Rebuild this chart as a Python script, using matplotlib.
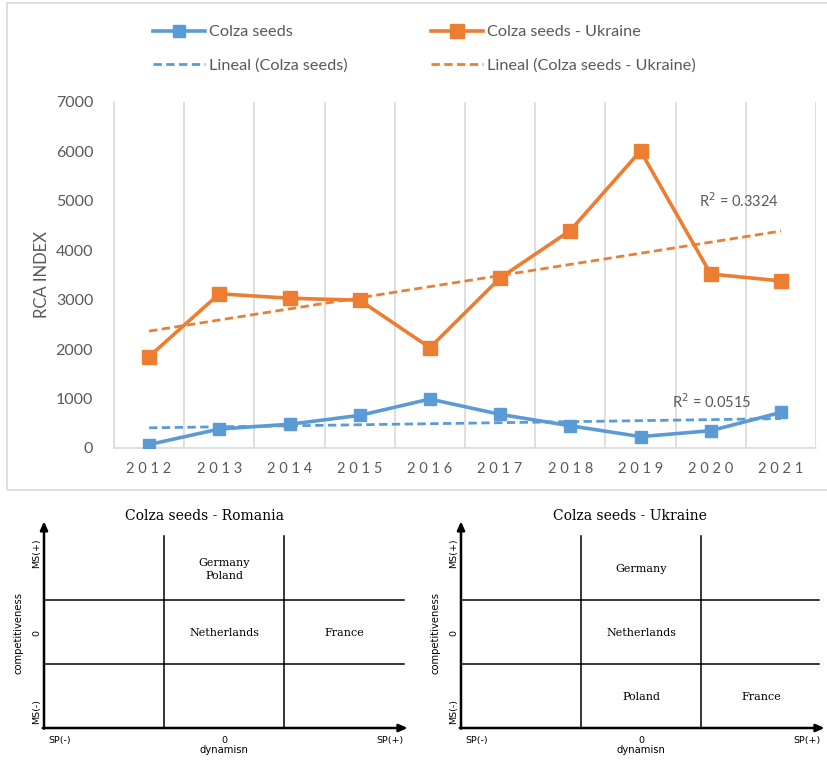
import matplotlib
matplotlib.use("Agg")
import matplotlib.pyplot as plt
from matplotlib import font_manager
from matplotlib.patches import Rectangle
import numpy as np

# ---------------- data ----------------
years = ["2012", "2013", "2014", "2015", "2016", "2017", "2018", "2019", "2020", "2021"]
colza_romania = [70, 384, 480, 660, 990, 680, 450, 230, 350, 720]
colza_ukraine = [1850, 3120, 3030, 2990, 2030, 3440, 4400, 6010, 3520, 3380]
r2_romania = "R$^2$ = 0.0515"
r2_ukraine = "R$^2$ = 0.3324"
y_ticks = [0, 1000, 2000, 3000, 4000, 5000, 6000, 7000]

romania_title = "Colza seeds - Romania"
romania_labels = ["Germany\nPoland", "Netherlands", "France"]
romania_cols = [1, 1, 2]
romania_rows = [2, 1, 1]

ukraine_title = "Colza seeds - Ukraine"
ukraine_labels = ["Germany", "Netherlands", "Poland", "France"]
ukraine_cols = [1, 1, 1, 2]
ukraine_rows = [2, 1, 0, 0]

# ---------------- fonts ----------------
avail = {f.name for f in font_manager.fontManager.ttflist}
sans = next((f for f in ["Liberation Sans Narrow", "Lato", "DejaVu Sans"] if f in avail), "DejaVu Sans")
serif = next((f for f in ["DejaVu Serif", "Liberation Serif"] if f in avail), "serif")

BLUE = "#5B9BD5"
ORANGE = "#ED7D31"
GRAY_TXT = "#595959"
GRID = "#D9D9D9"

W, H = 827, 760
fig = plt.figure(figsize=(W / 100, H / 100), dpi=100)


def px_axes(x0, y0, x1, y1):
    return fig.add_axes([x0 / W, 1 - y1 / H, (x1 - x0) / W, (y1 - y0) / H])


# chart border
fig.patches.append(Rectangle((7 / W, 1 - 490 / H), (W + 10) / W, (490 - 3) / H,
                             transform=fig.transFigure, fill=False, edgecolor=GRID, lw=1.2))

# ---------------- main line chart ----------------
ax = px_axes(114, 102, 816, 448)
x = np.arange(len(years))
ax.plot(x, colza_romania, color=BLUE, lw=2.6, marker="s", ms=8, label="Colza seeds", zorder=4)
ax.plot(x, colza_ukraine, color=ORANGE, lw=2.6, marker="s", ms=10.5, label="Colza seeds - Ukraine", zorder=4)

pb = np.polyfit(x, colza_romania, 1)
po = np.polyfit(x, colza_ukraine, 1)
ax.plot(x, np.polyval(pb, x), color=BLUE, lw=2.0, ls=(0, (3, 1.6)), label="Lineal (Colza seeds)", zorder=3)
ax.plot(x, np.polyval(po, x), color=ORANGE, lw=2.0, ls=(0, (3, 1.6)), label="Lineal (Colza seeds - Ukraine)", zorder=3)

ax.set_xlim(-0.5, len(years) - 0.5)
ax.set_ylim(0, 7000)
ax.set_yticks(y_ticks)
ax.set_yticklabels([str(v) for v in y_ticks], fontsize=11.5, color=GRAY_TXT, family=sans)
ax.set_xticks(x)
ax.set_xticklabels([" ".join(list(y)) for y in years], fontsize=10.5, color=GRAY_TXT, family=sans)
ax.tick_params(axis="both", length=0)
ax.tick_params(axis="x", pad=10)
ax.tick_params(axis="y", pad=15)
for k in range(len(years)):
    ax.axvline(k + 0.5, color=GRID, lw=1.2, zorder=1)
for s in ["top", "right"]:
    ax.spines[s].set_visible(False)
for s in ["left", "bottom"]:
    ax.spines[s].set_color(GRID)
    ax.spines[s].set_linewidth(1.2)
ax.set_ylabel("RCA INDEX", fontsize=12, color=GRAY_TXT, family=sans, labelpad=4)

ax.text(8.4, 5000, r2_ukraine, fontsize=10.5, color=GRAY_TXT, family=sans, ha="center", va="center")
ax.text(8.01, 930, r2_romania, fontsize=10.5, color=GRAY_TXT, family=sans, ha="center", va="center")

h, l = ax.get_legend_handles_labels()
order = [0, 2, 1, 3]
fig.legend([h[i] for i in order], [l[i] for i in order], loc="center",
           bbox_to_anchor=(424.5 / W, 1 - 49 / H), ncol=2, frameon=False,
           prop={"family": sans, "size": 11.7}, labelcolor=GRAY_TXT,
           handlelength=3.2, handletextpad=0.25, columnspacing=5.15, labelspacing=1.2)


# ---------------- quadrant panels ----------------
def quadrant(x0, title, labels, cols, rows, right_end, title_x):
    a = px_axes(x0, 536, x0 + 360, 728)
    a.set_xlim(0, 3)
    a.set_ylim(0, 3)
    a.axis("off")
    for c in [1, 2]:
        a.plot([c, c], [0, 3], color="black", lw=1.1, clip_on=False)
    for r in [1, 2]:
        a.plot([0.02, right_end], [r, r], color="black", lw=1.1, clip_on=False)
    a.annotate("", xy=(3.03, 0), xytext=(-0.01, 0), annotation_clip=False,
               arrowprops=dict(arrowstyle="-|>,head_length=0.5,head_width=0.22", lw=1.8, color="black", shrinkA=0, shrinkB=0))
    a.annotate("", xy=(0, 3.23), xytext=(0, -0.01), annotation_clip=False,
               arrowprops=dict(arrowstyle="-|>,head_length=0.5,head_width=0.22", lw=1.8, color="black", shrinkA=0, shrinkB=0))
    a.text(title_x, 3.31, title, family=serif, fontsize=10, ha="center", va="center")
    for lab, c, r in zip(labels, cols, rows):
        a.text(c + 0.5, r + 0.48, lab, family=serif, fontsize=8, ha="center", va="center", linespacing=1.4)
    small = dict(family="DejaVu Sans", fontsize=6.8, ha="center", va="center")
    a.text(-0.06, 2.73, "MS(+)", rotation=90, **small)
    a.text(-0.06, 1.48, "0", rotation=90, **small)
    a.text(-0.06, 0.25, "MS(-)", rotation=90, **small)
    a.text(-0.21, 1.48, "competitiveness", rotation=90, family="DejaVu Sans", fontsize=7.2, ha="center", va="center")
    a.text(0.13, -0.19, "SP(-)", **small)
    a.text(1.5, -0.19, "0", **small)
    a.text(2.88, -0.19, "SP(+)", **small)
    a.text(1.5, -0.35, "dynamisn", family="DejaVu Sans", fontsize=7.2, ha="center", va="center")


quadrant(44, romania_title, romania_labels, romania_cols, romania_rows, 3.0, 1.34)
quadrant(461, ukraine_title, ukraine_labels, ukraine_cols, ukraine_rows, 2.98, 1.41)

fig.savefig("out.png", dpi=100)
